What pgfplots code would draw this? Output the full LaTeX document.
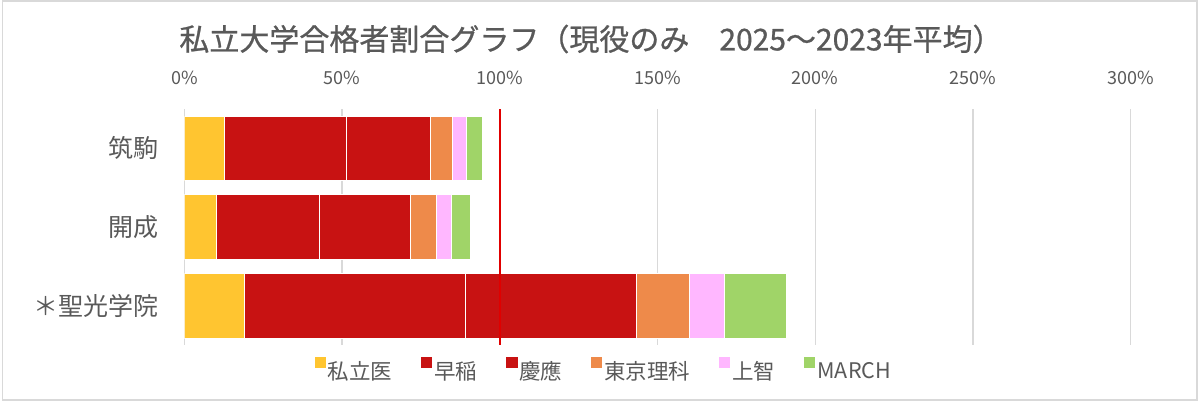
\documentclass[border=0pt]{standalone}
\usepackage{fontspec}
\setmainfont{Noto Sans CJK JP}
\newfontfamily\titlefont{Noto Sans CJK JP}[FakeBold=0.8]
\usepackage{pgfplots}
\pgfplotsset{compat=1.18}
\definecolor{textgray}{HTML}{595959}
\definecolor{gridgray}{HTML}{D9D9D9}
\definecolor{cIsi}{HTML}{FFC530}
\definecolor{cWaseda}{HTML}{C81212}
\definecolor{cKeio}{HTML}{C81212}
\definecolor{cRika}{HTML}{EE8A4A}
\definecolor{cJochi}{HTML}{FFB7FF}
\definecolor{cMarch}{HTML}{A0D468}
\definecolor{redline}{HTML}{E00000}
\begin{document}
\begin{tikzpicture}
\useasboundingbox (0,0) rectangle (1200pt,402pt);
\draw[gridgray, line width=1.2pt] (2.7pt,2pt) rectangle (1197pt,401pt);
\node[text=textgray, font=\titlefont\fontsize{30}{36}\selectfont, anchor=center, inner sep=0pt] at (591pt,363pt) {私立大学合格者割合グラフ（現役のみ　2025～2023年平均）};
\begin{axis}[
  at={(184.3pt,57pt)}, anchor=south west,
  scale only axis, width=946.4pt, height=236pt,
  xbar stacked, bar width=64.5pt,
  xmin=0, xmax=300, ymin=-0.5, ymax=2.5,
  y dir=reverse,
  ytick={0,1,2}, yticklabels={筑駒,開成,＊聖光学院},
  xtick={0,50,100,150,200,250,300},
  axis x line*=top, axis y line*=left,
  axis line style={draw=none},
  major tick length=0pt,
  xmajorgrids, grid style={gridgray, line width=1.2pt},
  /pgf/number format/assume math mode=true,
  xticklabel={\pgfmathprintnumber{\tick}\%},
  xticklabel style={font=\fontsize{18}{22}\selectfont, text=textgray, inner sep=0pt, anchor=base, yshift=24.5pt},
  yticklabel style={font=\fontsize{25}{30}\selectfont, text=textgray, inner sep=0pt, anchor=east, xshift=-26pt},
  legend style={at={(0.4435,-0.106)}, anchor=center, draw=none, fill=none,
    legend columns=-1, font=\fontsize{21.5}{25}\selectfont, text=textgray,
    nodes={inner sep=2pt},
    /tikz/every even column/.append style={column sep=27pt}},
  legend image code/.code={\fill[#1, draw=none] (0pt,2.5pt) rectangle (11pt,13.5pt);},
  every axis plot/.append style={draw=white, line width=0.8pt},
]
\addplot[fill=cIsi] coordinates {(12.8,0) (10.2,1) (19.0,2)};
\addplot[fill=cWaseda] coordinates {(38.5,0) (32.6,1) (70.0,2)};
\addplot[fill=cKeio] coordinates {(26.6,0) (29.0,1) (54.3,2)};
\addplot[fill=cRika] coordinates {(7.0,0) (8.2,1) (16.9,2)};
\addplot[fill=cJochi] coordinates {(4.4,0) (4.8,1) (11.1,2)};
\addplot[fill=cMarch] coordinates {(5.1,0) (6.0,1) (19.7,2)};
\legend{私立医,早稲,慶應,東京理科,上智,MARCH}
\end{axis}
\begin{axis}[
  at={(184.3pt,57pt)}, anchor=south west,
  scale only axis, width=946.4pt, height=236pt,
  xmin=0, xmax=300, ymin=-0.5, ymax=2.5, y dir=reverse,
  hide axis,
]
\addplot[redline, line width=1.8pt] coordinates {(100,-0.5) (100,2.5)};
\end{axis}
\end{tikzpicture}
\end{document}
